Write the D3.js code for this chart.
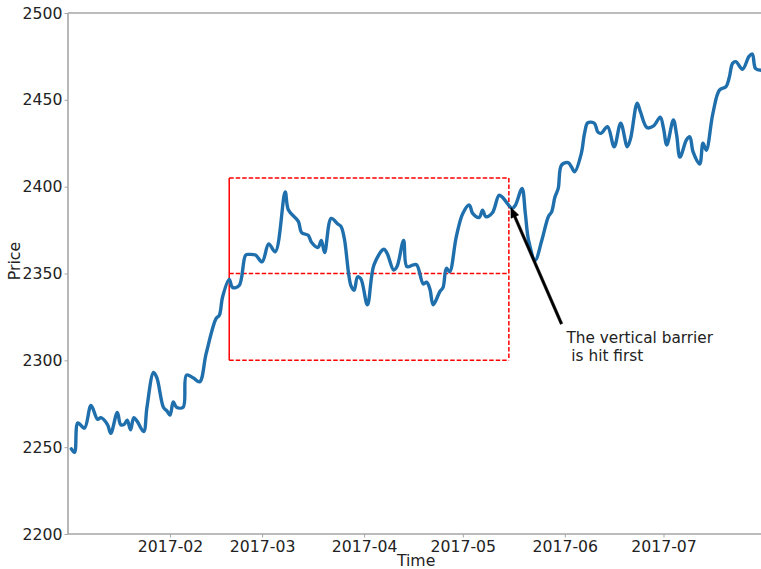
<!DOCTYPE html>
<html>
<head>
<meta charset="utf-8">
<script src="https://cdn.jsdelivr.net/npm/d3@7"></script>
<style>
  html, body { margin: 0; padding: 0; background: #fff; }
  svg { display: block; font-family: "DejaVu Sans", sans-serif; }
</style>
</head>
<body>
<svg id="chart" width="761" height="569"></svg>
<script>
// ---- data ----
const dates = [
  "2017-01-02","2017-01-03","2017-01-04","2017-01-06","2017-01-08","2017-01-10","2017-01-11","2017-01-13",
  "2017-01-14","2017-01-16","2017-01-17","2017-01-18","2017-01-19","2017-01-20","2017-01-21","2017-01-22",
  "2017-01-24","2017-01-25","2017-01-27","2017-01-28","2017-01-30","2017-01-31","2017-02-01","2017-02-02",
  "2017-02-03","2017-02-05","2017-02-06","2017-02-08","2017-02-10","2017-02-12","2017-02-15","2017-02-16",
  "2017-02-17","2017-02-19","2017-02-20","2017-02-22","2017-02-24","2017-02-25","2017-02-27","2017-03-01",
  "2017-03-03","2017-03-05","2017-03-08","2017-03-09","2017-03-12","2017-03-13","2017-03-15","2017-03-16",
  "2017-03-18","2017-03-19","2017-03-20","2017-03-22","2017-03-24","2017-03-25","2017-03-26","2017-03-28",
  "2017-03-29","2017-03-30","2017-03-31","2017-04-02","2017-04-04","2017-04-07","2017-04-08","2017-04-10",
  "2017-04-11","2017-04-13","2017-04-14","2017-04-16","2017-04-17","2017-04-19","2017-04-20","2017-04-21",
  "2017-04-22","2017-04-24","2017-04-25","2017-04-26","2017-04-27","2017-04-29","2017-05-01","2017-05-03",
  "2017-05-04","2017-05-06","2017-05-07","2017-05-08","2017-05-10","2017-05-12","2017-05-13","2017-05-16",
  "2017-05-17","2017-05-19","2017-05-20","2017-05-21","2017-05-23","2017-05-25","2017-05-27","2017-05-28",
  "2017-05-29","2017-05-30","2017-05-31","2017-06-02","2017-06-03","2017-06-04","2017-06-06","2017-06-07",
  "2017-06-08","2017-06-10","2017-06-11","2017-06-12","2017-06-14","2017-06-16","2017-06-18","2017-06-20",
  "2017-06-21","2017-06-23","2017-06-24","2017-06-26","2017-06-28","2017-06-30","2017-07-01","2017-07-02",
  "2017-07-04","2017-07-05","2017-07-06","2017-07-08","2017-07-09","2017-07-10","2017-07-12","2017-07-13",
  "2017-07-14","2017-07-16","2017-07-18","2017-07-20","2017-07-21","2017-07-22","2017-07-23","2017-07-25",
  "2017-07-27","2017-07-28","2017-07-29","2017-07-31"
];
const prices = [
  2249,2247,2264,2261,2274,2266,2267,2263,
  2258,2270,2263,2263,2265.5,2260,2267,2265,
  2259,2273,2293,2290,2273,2271,2268.5,2276,
  2273,2273,2291.5,2290,2287.6,2304,2324,2326,
  2336.6,2346.6,2342,2343,2360.6,2361,2360.6,2356.7,
  2367,2362.5,2397,2386.5,2380,2373.5,2372,2368,
  2365,2369,2362,2381.7,2378.5,2377,2370,2343,
  2340.4,2348,2347,2332,2355,2364,2361.6,2352,
  2354,2369,2354,2355,2355,2344,2345,2341,
  2332,2339.5,2342,2353,2351,2371,2384.6,2389.4,
  2384.6,2382.3,2386.5,2382.7,2385,2395,2394,2387.5,
  2389.4,2399,2384.6,2369,2357.7,2369,2382.7,2385.5,
  2394,2399,2412.4,2413.8,2411.5,2408.6,2419,2430.7,
  2436.8,2436.5,2431.6,2430.7,2434.5,2423,2436.5,2423,
  2427.8,2448,2443,2434,2435,2440,2433.6,2424,
  2438.4,2429.7,2417,2427,2428.7,2420,2413,2425,
  2421,2442,2455.6,2457.6,2463,2471,2472,2467.6,
  2475,2476.4,2468,2467
];
const xTickLabels = ["2017-02","2017-03","2017-04","2017-05","2017-06","2017-07"];
const yTickValues = [2200,2250,2300,2350,2400,2450,2500];
const xDomain = ["2017-01-01","2017-07-31"];
const yDomain = [2200,2500];

// triple barrier
const barrierStart = "2017-02-19";
const barrierEnd = "2017-05-15";
const upperBarrier = 2405;
const startPrice = 2350;
const lowerBarrier = 2300;

// annotation
const annoText = ["The vertical barrier", " is hit first"];
const annoPoint = ["2017-05-15", 2388];
const annoTail = ["2017-05-31", 2321];

// ---- drawing ----
const parse = d3.utcParse("%Y-%m-%d");
const parseM = d3.utcParse("%Y-%m");
const svg = d3.select("#chart");
const mLeft = 68, mRight = 762.2, mTop = 13, mBottom = 534;
const fontSize = "15.7px";

const x = d3.scaleUtc().domain(xDomain.map(parse)).range([mLeft, mRight]);
const y = d3.scaleLinear().domain(yDomain).range([mBottom, mTop]);

const data = dates.map((d, i) => ({date: parse(d), price: prices[i]}));

const axisColor = "#a6a6a6";
const textColor = "#222222";

// axes
const xAxis = d3.axisBottom(x)
  .tickValues(xTickLabels.map(parseM))
  .tickFormat(d3.utcFormat("%Y-%m"))
  .tickSize(3.5).tickPadding(3);
const gx = svg.append("g").attr("transform", `translate(0,${mBottom})`).call(xAxis);
const yAxis = d3.axisLeft(y).tickValues(yTickValues).tickFormat(d3.format("d"))
  .tickSize(3.5).tickPadding(2);
const gy = svg.append("g").attr("transform", `translate(${mLeft},0)`).call(yAxis);

[gx, gy].forEach(g => {
  g.select(".domain").attr("stroke", axisColor).attr("stroke-width", 1.6);
  g.selectAll(".tick line").attr("stroke", axisColor).attr("stroke-width", 1);
  g.selectAll(".tick text").attr("fill", textColor).style("font-size", fontSize)
    .style("font-family", "'DejaVu Sans', sans-serif");
});
gx.select(".domain").attr("d", `M${mLeft},0H${mRight}`);
gy.select(".domain").attr("d", `M0,${mBottom}V${mTop}`);

// top spine
svg.append("line").attr("x1", mLeft).attr("x2", mRight).attr("y1", mTop).attr("y2", mTop)
  .attr("stroke", axisColor).attr("stroke-width", 1.6);

// axis labels
svg.append("text").attr("x", (mLeft + mRight) / 2 + 1).attr("y", 566)
  .attr("text-anchor", "middle").attr("fill", textColor).style("font-size", fontSize).text("Time");
svg.append("text").attr("transform", `translate(19.5,261) rotate(-90)`)
  .attr("text-anchor", "middle").attr("fill", textColor).style("font-size", fontSize).text("Price");

// barrier box
const red = "#ff0000";
const bx0 = x(parse(barrierStart)), bx1 = x(parse(barrierEnd));
const dash = "4.5,2";
svg.append("line").attr("x1", bx0).attr("x2", bx0).attr("y1", y(lowerBarrier)).attr("y2", y(upperBarrier))
  .attr("stroke", red).attr("stroke-width", 1.5);
[upperBarrier, startPrice, lowerBarrier].forEach(v => {
  svg.append("line").attr("x1", bx0).attr("x2", bx1).attr("y1", y(v)).attr("y2", y(v))
    .attr("stroke", red).attr("stroke-width", 1.5).attr("stroke-dasharray", dash);
});
svg.append("line").attr("x1", bx1).attr("x2", bx1).attr("y1", y(upperBarrier)).attr("y2", y(lowerBarrier))
  .attr("stroke", red).attr("stroke-width", 1.5).attr("stroke-dasharray", dash);

// price line
const line = d3.line().x(d => x(d.date)).y(d => y(d.price)).curve(d3.curveCatmullRom.alpha(0.5));
svg.append("path").datum(data).attr("d", line)
  .attr("fill", "none").attr("stroke", "#1f6fad").attr("stroke-width", 3.4)
  .attr("stroke-linejoin", "round").attr("stroke-linecap", "round");

// annotation arrow
const tx = x(parse(annoPoint[0])) + 2, ty = y(annoPoint[1]);
const sx = x(parse(annoTail[0])), sy = y(annoTail[1]);
const ang = Math.atan2(ty - sy, tx - sx);
const L = Math.hypot(tx - sx, ty - sy);
const headLen = 10, headW = 4.2, shaftW = 1.3;
const pts = [
  [0, -shaftW], [L - headLen, -shaftW], [L - headLen, -headW], [L, 0],
  [L - headLen, headW], [L - headLen, shaftW], [0, shaftW]
].map(([u, v]) => [sx + u * Math.cos(ang) - v * Math.sin(ang), sy + u * Math.sin(ang) + v * Math.cos(ang)]);
svg.append("polygon").attr("points", pts.map(p => p.join(",")).join(" "))
  .attr("fill", "#000").attr("stroke", "#000").attr("stroke-width", 0.5);

annoText.forEach((t, i) => {
  svg.append("text").attr("fill", textColor).style("font-size", "15.3px")
    .attr("xml:space", "preserve").style("white-space", "pre")
    .attr("x", sx + 5).attr("y", sy + 19.5 + i * 18).text(t);
});
</script>
</body>
</html>
